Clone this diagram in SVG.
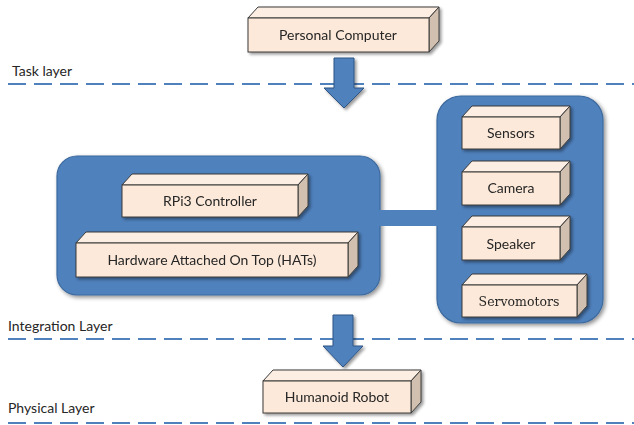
<svg xmlns="http://www.w3.org/2000/svg" width="634" height="425" viewBox="0 0 634 425">
  <defs>
    <filter id="shadow" x="-10%" y="-20%" width="125%" height="150%">
      <feGaussianBlur in="SourceAlpha" stdDeviation="1.6"/>
      <feOffset dx="1.5" dy="2" result="b"/>
      <feComponentTransfer><feFuncA type="linear" slope="0.4"/></feComponentTransfer>
      <feMerge><feMergeNode/><feMergeNode in="SourceGraphic"/></feMerge>
    </filter>
    <filter id="panelShadow" x="-10%" y="-10%" width="120%" height="120%">
      <feGaussianBlur in="SourceAlpha" stdDeviation="2"/>
      <feOffset dx="1.5" dy="2" result="b"/>
      <feComponentTransfer><feFuncA type="linear" slope="0.45"/></feComponentTransfer>
      <feMerge><feMergeNode/><feMergeNode in="SourceGraphic"/></feMerge>
    </filter>
  </defs>
  <style>
    .layer { fill: none; stroke: #4f81bd; stroke-width: 2; stroke-dasharray: 18 8; }
    .lbl { font-family: Lato, "Liberation Sans", sans-serif; font-size: 14px; fill: #262626; }
    .panel { fill: #4f81bd; stroke: #3d6a9e; stroke-width: 1.2; filter: url(#panelShadow); }
    .bar { fill: #4f81bd; }
    .arrow { fill: #4f81bd; stroke: #2f5483; stroke-width: 1; filter: url(#shadow); }
    .cube { filter: url(#shadow); }
    .front { fill: #fde9d9; stroke: #3a3a3a; stroke-width: 1; }
    .top { fill: #fdeee3; stroke: #3a3a3a; stroke-width: 1; }
    .side { fill: #d1bfb0; stroke: #3a3a3a; stroke-width: 1; }
    .txt { font-family: Lato, "Liberation Sans", sans-serif; font-size: 14px; fill: #262626; text-anchor: middle; }
    .serif { font-family: "DejaVu Serif", "Liberation Serif", serif; font-size: 12.5px; fill: #262626; text-anchor: middle; }
  </style>

  <rect width="634" height="425" fill="#ffffff"/>

  <!-- layer separators and their names -->
  <g id="layers">
    <line class="layer" x1="8" y1="84" x2="634" y2="84"/>
    <line class="layer" x1="8" y1="339" x2="634" y2="339"/>
    <line class="layer" x1="8" y1="423" x2="634" y2="423"/>
    <text class="lbl" x="12" y="76">Task layer</text>
    <text class="lbl" x="8" y="331">Integration Layer</text>
    <text class="lbl" x="8" y="413">Physical Layer</text>
  </g>

  <!-- rounded blue panels -->
  <g id="controller-panel">
    <rect class="panel" x="57" y="156" width="323" height="139" rx="20"/>
  </g>
  <g id="peripheral-panel">
    <rect class="panel" x="437" y="96" width="166" height="227" rx="24"/>
  </g>

  <!-- connectors: link bar and block arrows -->
  <g id="connectors">
    <rect class="bar" x="379" y="210" width="60" height="16"/>
    <polygon class="arrow" points="334,58 354,58 354,88 364,88 344,108 324,88 334,88"/>
    <polygon class="arrow" points="333,315 353,315 353,346 363,346 343,367 323,346 333,346"/>
  </g>

  <!-- cube nodes: front face, top face, right side -->
  <g id="personal-computer" class="cube">
    <polygon class="top" points="248,18 258,7 439,7 429,18"/>
    <polygon class="side" points="429,18 439,7 439,41 429,52"/>
    <rect class="front" x="248" y="18" width="181" height="34"/>
    <text class="txt" x="338" y="40">Personal Computer</text>
  </g>

  <g id="rpi3-controller" class="cube">
    <polygon class="top" points="122,185 132,174 308,174 298,185"/>
    <polygon class="side" points="298,185 308,174 308,206 298,217"/>
    <rect class="front" x="122" y="185" width="176" height="32"/>
    <text class="txt" x="210" y="206">RPi3 Controller</text>
  </g>

  <g id="hats" class="cube">
    <polygon class="top" points="76,243 86,232 358,232 348,243"/>
    <polygon class="side" points="348,243 358,232 358,266 348,277"/>
    <rect class="front" x="76" y="243" width="272" height="34"/>
    <text class="txt" x="212" y="265">Hardware Attached On Top (HATs)</text>
  </g>

  <g id="sensors" class="cube">
    <polygon class="top" points="462,117 472,106 570,106 560,117"/>
    <polygon class="side" points="560,117 570,106 570,138 560,149"/>
    <rect class="front" x="462" y="117" width="98" height="32"/>
    <text class="txt" x="511" y="138">Sensors</text>
  </g>

  <g id="camera" class="cube">
    <polygon class="top" points="462,172 472,161 570,161 560,172"/>
    <polygon class="side" points="560,172 570,161 570,194 560,205"/>
    <rect class="front" x="462" y="172" width="98" height="33"/>
    <text class="txt" x="511" y="193">Camera</text>
  </g>

  <g id="speaker" class="cube">
    <polygon class="top" points="462,227 472,216 570,216 560,227"/>
    <polygon class="side" points="560,227 570,216 570,249 560,260"/>
    <rect class="front" x="462" y="227" width="98" height="33"/>
    <text class="txt" x="511" y="249">Speaker</text>
  </g>

  <g id="servomotors" class="cube">
    <polygon class="top" points="462,285 472,274 587,274 577,285"/>
    <polygon class="side" points="577,285 587,274 587,306 577,317"/>
    <rect class="front" x="462" y="285" width="115" height="32"/>
    <text class="serif" x="519" y="306">Servomotors</text>
  </g>

  <g id="humanoid-robot" class="cube">
    <polygon class="top" points="263,381 273,370 421,370 411,381"/>
    <polygon class="side" points="411,381 421,370 421,402 411,413"/>
    <rect class="front" x="263" y="381" width="148" height="32"/>
    <text class="txt" x="337" y="402">Humanoid Robot</text>
  </g>
</svg>
